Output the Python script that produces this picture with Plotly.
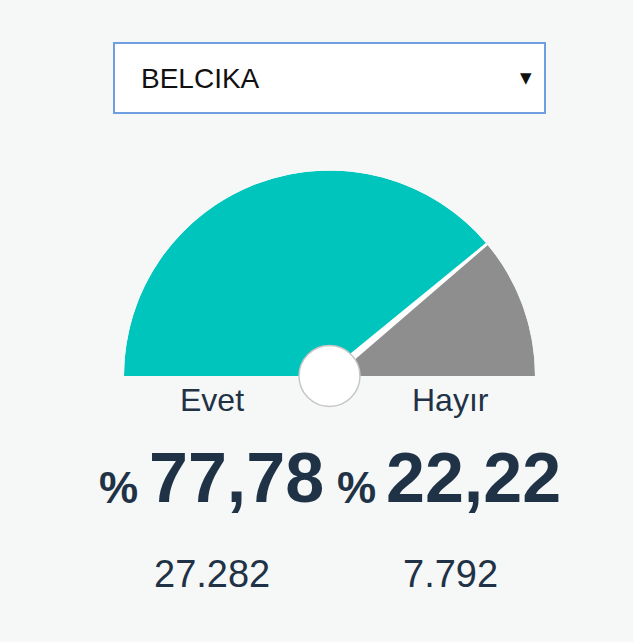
import plotly.graph_objects as go

# ---- data ----
country = "BELCIKA"
labels = ["Evet", "Hayır"]
percents = [77.78, 22.22]
votes = [27282, 7792]
colors = ["#00c5bc", "#8e8e8e"]

W, H = 633, 642
BG = "#f6f8f8"
TXT = "#1f3246"
FONT = "Liberation Sans, Arial, sans-serif"


def px(x):
    return x / W


def py(y):
    return 1 - y / H


def fmt_pct(v):
    return f"{v:.2f}".replace(".", ",")


def fmt_int(v):
    return f"{v:,}".replace(",", ".")


# gauge geometry (pixels)
cx, cy, R = 329.5, 376, 205.5

fig = go.Figure()

# gauge sectors: theta in degrees, 0 at 9 o'clock, clockwise to 180 at 3 o'clock
starts = []
acc = 0.0
for p in percents:
    starts.append(acc)
    acc += p * 1.8
fig.add_trace(go.Barpolar(
    r=[1] * len(percents),
    theta=[s + p * 0.9 for s, p in zip(starts, percents)],
    width=[p * 1.8 for p in percents],
    marker=dict(color=colors, line=dict(width=0)),
    hoverinfo="skip", showlegend=False,
))

# needle gap (white, tapered)
split = percents[0] * 1.8
fig.add_trace(go.Scatterpolar(
    r=[1.0, 1.0, 0.14, 0.14, 1.0],
    theta=[split - 0.4, split + 0.4, split + 7.5, split - 7.5, split - 0.4],
    mode="lines", fill="toself", fillcolor="white",
    line=dict(width=0, color="white"),
    hoverinfo="skip", showlegend=False,
))

# center hub
fig.add_trace(go.Scatterpolar(
    r=[0], theta=[0], mode="markers",
    marker=dict(size=61, color="white", line=dict(color="#c6c6c6", width=1.5)),
    cliponaxis=False, hoverinfo="skip", showlegend=False,
))

annotations = []
# dropdown text
annotations.append(dict(text=country, x=px(139), y=py(78.5), xanchor="left", yanchor="middle",
                        font=dict(size=28, color="#111111", family=FONT)))
annotations.append(dict(text="▼", x=px(526), y=py(78), xanchor="center", yanchor="middle",
                        font=dict(size=15, color="#111111", family="DejaVu Sans")))

label_x = [211.5, 450]
pct_sign_x = [118.5, 356.5]
pct_num_x = [236, 473]
for i in range(len(labels)):
    annotations.append(dict(text=labels[i], x=px(label_x[i]), y=py(400), xanchor="center", yanchor="middle",
                            font=dict(size=32, color=TXT, family=FONT)))
    annotations.append(dict(text="%", x=px(pct_sign_x[i]), y=py(487), xanchor="center", yanchor="middle",
                            font=dict(size=44, color=TXT, family=FONT, weight="bold")))
    annotations.append(dict(text=fmt_pct(percents[i]), x=px(pct_num_x[i]), y=py(477.5), xanchor="center",
                            yanchor="middle", font=dict(size=70, color=TXT, family=FONT, weight="bold")))
    annotations.append(dict(text=fmt_int(votes[i]), x=px(label_x[i]), y=py(573.5), xanchor="center",
                            yanchor="middle", font=dict(size=38, color=TXT, family=FONT)))

for a in annotations:
    a.update(xref="paper", yref="paper", showarrow=False)

fig.update_layout(
    width=W, height=H, autosize=False,
    margin=dict(l=0, r=0, t=0, b=0),
    paper_bgcolor=BG, plot_bgcolor=BG,
    showlegend=False,
    polar=dict(
        domain=dict(x=[px(cx - R), px(cx + R)], y=[py(cy), py(cy - R)]),
        sector=[0, 180], hole=0, bargap=0,
        bgcolor="rgba(0,0,0,0)",
        radialaxis=dict(range=[0, 1], visible=False, showgrid=False, showline=False, showticklabels=False),
        angularaxis=dict(visible=False, showgrid=False, showline=False, showticklabels=False,
                         rotation=180, direction="clockwise", thetaunit="degrees"),
    ),
    shapes=[dict(type="rect", xref="paper", yref="paper",
                 x0=px(114), x1=px(545), y0=py(113), y1=py(43),
                 line=dict(color="#6f9fe0", width=2), fillcolor="white", layer="below")],
    annotations=annotations,
)

fig.write_html(
    "out.html",
    config=dict(displayModeBar=False),
    post_script="document.body.style.margin='0';document.body.style.padding='0';"
                "document.body.style.background='" + BG + "';document.body.style.overflow='hidden';",
)
